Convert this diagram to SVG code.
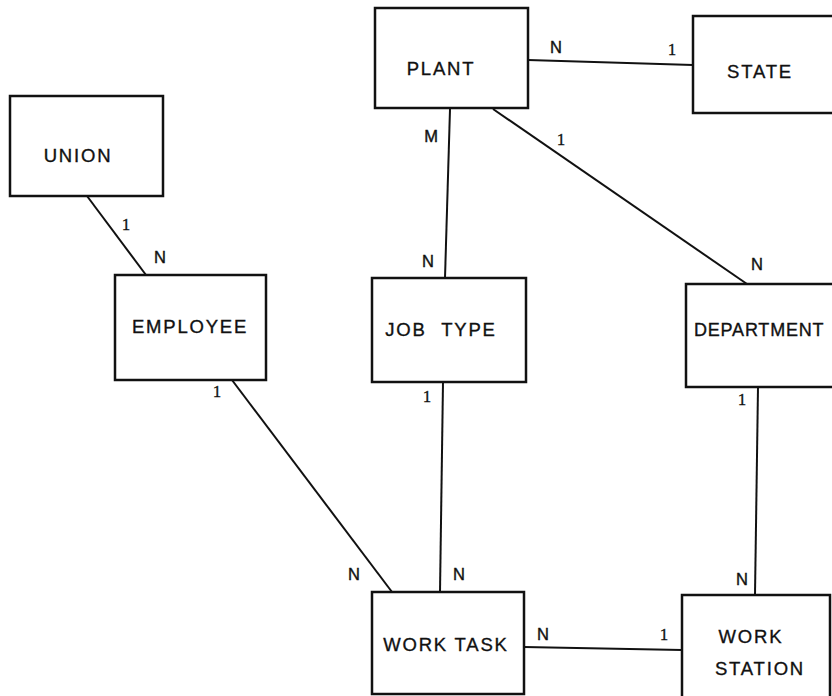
<svg xmlns="http://www.w3.org/2000/svg" width="832" height="696" viewBox="0 0 832 696">
<style>
.box{fill:#fff;stroke:#111;stroke-width:2.5}
.lbl{font-family:"Liberation Sans","DejaVu Sans",sans-serif;font-size:18.5px;letter-spacing:1.8px;fill:#111;stroke:#111;stroke-width:0.35;text-anchor:middle}
.card{font-family:"Liberation Sans","DejaVu Sans",sans-serif;font-size:16.5px;fill:#111;stroke:#111;stroke-width:0.4;text-anchor:middle}
.one{font-family:"Liberation Serif","DejaVu Serif",serif;font-size:17px;fill:#111;stroke:#111;stroke-width:0.3;text-anchor:middle}
.edge{stroke:#111;stroke-width:2;fill:none}
</style>
<rect width="832" height="696" fill="#fff"/>
<g id="connectors">
<line class="edge" x1="528" y1="60" x2="693" y2="65"/>
<line class="edge" x1="450" y1="109" x2="445" y2="278"/>
<line class="edge" x1="493" y1="109" x2="747" y2="284"/>
<line class="edge" x1="87" y1="196" x2="146" y2="275"/>
<line class="edge" x1="232" y1="380" x2="392" y2="592"/>
<line class="edge" x1="443" y1="382" x2="440" y2="592"/>
<line class="edge" x1="758" y1="387" x2="755" y2="595"/>
<line class="edge" x1="524" y1="647" x2="682" y2="650"/>
<text class="card" x="556" y="53">N</text>
<text class="one" x="672" y="55">1</text>
<text class="card" x="431" y="142">M</text>
<text class="one" x="561" y="145">1</text>
<text class="card" x="428" y="267">N</text>
<text class="card" x="757" y="270">N</text>
<text class="one" x="126" y="230">1</text>
<text class="card" x="160" y="263">N</text>
<text class="one" x="217" y="397">1</text>
<text class="one" x="427" y="402">1</text>
<text class="one" x="742" y="405">1</text>
<text class="card" x="354" y="580">N</text>
<text class="card" x="459" y="580">N</text>
<text class="card" x="742" y="585">N</text>
<text class="card" x="543" y="640">N</text>
<text class="one" x="664" y="640">1</text>
</g>
<g id="plant"><rect class="box" x="375" y="8" width="153" height="100"/><text class="lbl" x="441" y="75">PLANT</text></g>
<g id="state"><rect class="box" x="693" y="16" width="160" height="97"/><text class="lbl" x="760" y="78">STATE</text></g>
<g id="union"><rect class="box" x="10" y="96" width="153" height="100"/><text class="lbl" x="78" y="162">UNION</text></g>
<g id="employee"><rect class="box" x="115" y="275" width="151" height="105"/><text class="lbl" x="190" y="333">EMPLOYEE</text></g>
<g id="job-type"><rect class="box" x="372" y="278" width="154" height="104"/><text class="lbl" x="441" y="336" style="word-spacing:8px">JOB TYPE</text></g>
<g id="department"><rect class="box" x="686" y="284" width="170" height="103"/><text class="lbl" x="694" y="336" style="text-anchor:start;font-size:18px;letter-spacing:0.8px">DEPARTMENT</text></g>
<g id="work-task"><rect class="box" x="372" y="592" width="152" height="102"/><text class="lbl" x="446" y="651">WORK TASK</text></g>
<g id="work-station"><rect class="box" x="682" y="595" width="148" height="110"/><text class="lbl" x="751" y="643">WORK</text><text class="lbl" x="760" y="675">STATION</text></g>
</svg>
